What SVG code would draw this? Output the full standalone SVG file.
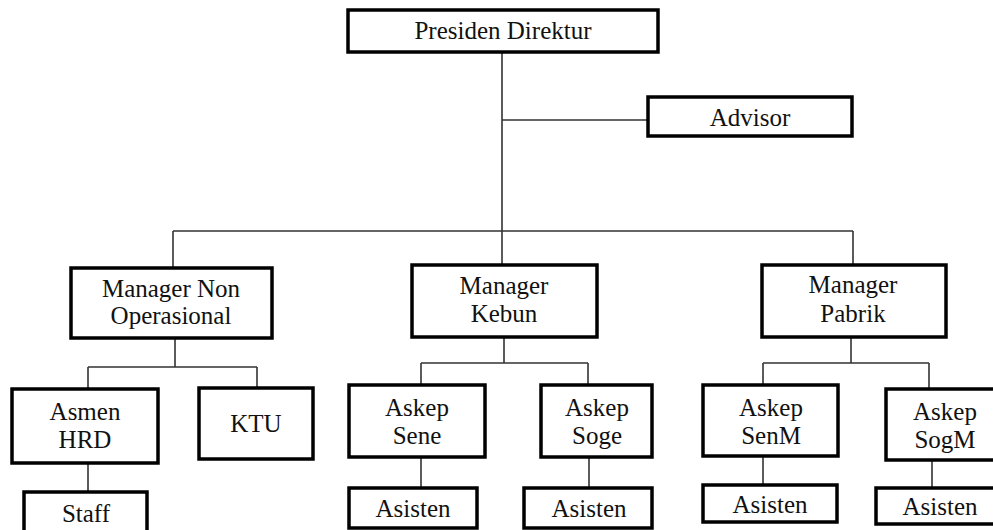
<svg xmlns="http://www.w3.org/2000/svg" width="993" height="530" viewBox="0 0 993 530">
<style>
.box{fill:#fff;stroke:#000;stroke-width:3.5}
.t{font-family:'Liberation Serif','DejaVu Serif','Times New Roman',serif;font-size:25px;fill:#111;text-anchor:middle}
.c{fill:none;stroke:#333;stroke-width:1.6}
</style>
<rect width="993" height="530" fill="#fff"/>
<g id="connectors">
<path class="c" d="M502 52V231M502 120H648M173 231H853M173 231V268M502 231V265M853 231V265"/>
<path class="c" d="M175 338V367M88 367H257M88 367V389M257 367V388M88 463V492"/>
<path class="c" d="M504 337V363M421 363H588M421 363V385M588 363V385M421 457V488M589 457V488"/>
<path class="c" d="M851 337V363M763 363H929M763 363V385M929 363V389M763 456V485M932 460V488"/>
</g>
<g id="presiden"><rect class="box" x="348" y="10" width="310" height="42"/><text class="t" x="503" y="39">Presiden Direktur</text></g>
<g id="advisor"><rect class="box" x="648" y="97" width="204" height="39"/><text class="t" x="750" y="126">Advisor</text></g>
<g id="mgr-nonop"><rect class="box" x="71" y="268" width="201" height="70"/><text class="t" x="171" y="297">Manager Non</text><text class="t" x="171" y="324">Operasional</text></g>
<g id="mgr-kebun"><rect class="box" x="412" y="265" width="185" height="72"/><text class="t" x="504" y="294">Manager</text><text class="t" x="504" y="322">Kebun</text></g>
<g id="mgr-pabrik"><rect class="box" x="762" y="265" width="184" height="72"/><text class="t" x="853" y="293">Manager</text><text class="t" x="853" y="322">Pabrik</text></g>
<g id="asmen-hrd"><rect class="box" x="12" y="389" width="146" height="74"/><text class="t" x="85" y="420">Asmen</text><text class="t" x="85" y="448">HRD</text></g>
<g id="ktu"><rect class="box" x="199" y="388" width="114" height="71"/><text class="t" x="256" y="432">KTU</text></g>
<g id="staff"><rect class="box" x="24" y="492" width="123" height="45"/><text class="t" x="86" y="522">Staff</text></g>
<g id="askep-sene"><rect class="box" x="349" y="385" width="136" height="72"/><text class="t" x="417" y="416">Askep</text><text class="t" x="417" y="444">Sene</text></g>
<g id="askep-soge"><rect class="box" x="541" y="385" width="111" height="72"/><text class="t" x="597" y="416">Askep</text><text class="t" x="597" y="444">Soge</text></g>
<g id="askep-senm"><rect class="box" x="703" y="385" width="135" height="71"/><text class="t" x="771" y="416">Askep</text><text class="t" x="771" y="444">SenM</text></g>
<g id="askep-sogm"><rect class="box" x="886" y="389" width="112" height="71"/><text class="t" x="945" y="420">Askep</text><text class="t" x="945" y="448">SogM</text></g>
<g id="asisten-sene"><rect class="box" x="349" y="488" width="128" height="40"/><text class="t" x="413" y="517">Asisten</text></g>
<g id="asisten-soge"><rect class="box" x="524" y="488" width="128" height="40"/><text class="t" x="589" y="517">Asisten</text></g>
<g id="asisten-senm"><rect class="box" x="703" y="485" width="134" height="37"/><text class="t" x="770" y="513">Asisten</text></g>
<g id="asisten-sogm"><rect class="box" x="876" y="488" width="122" height="36"/><text class="t" x="940" y="515">Asisten</text></g>
</svg>
